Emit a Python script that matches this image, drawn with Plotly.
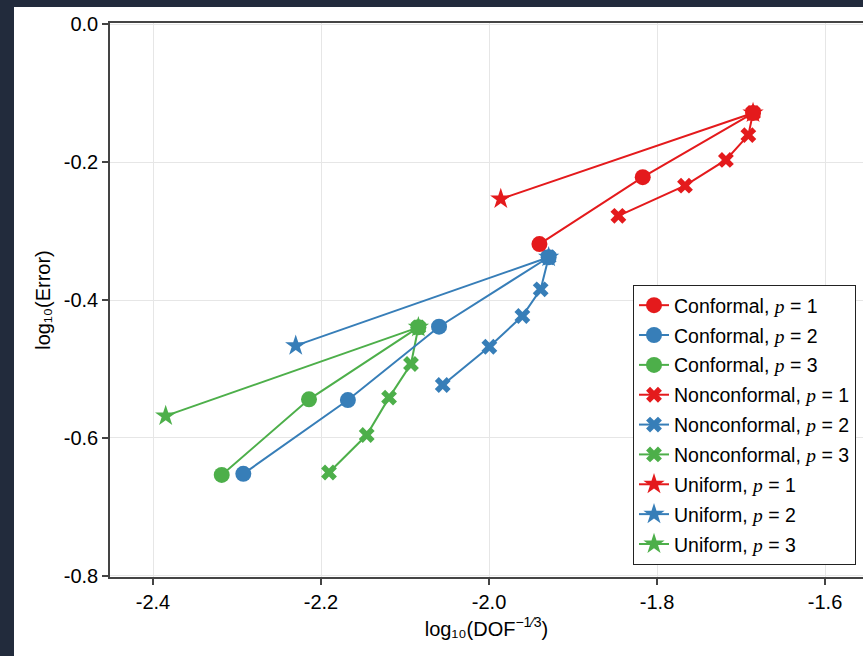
import plotly.graph_objects as go

# ---- data ----
conf_p1_x = [-1.6857, -1.817, -1.940]
conf_p1_y = [-0.129, -0.222, -0.319]
conf_p2_x = [-1.929, -2.0595, -2.168, -2.2925]
conf_p2_y = [-0.338, -0.4387, -0.545, -0.652]
conf_p3_x = [-2.0841, -2.2143, -2.3182]
conf_p3_y = [-0.4396, -0.544, -0.6536]

nonc_p1_x = [-1.6857, -1.6913, -1.718, -1.7667, -1.846]
nonc_p1_y = [-0.129, -0.161, -0.197, -0.2343, -0.278]
nonc_p2_x = [-1.929, -1.9385, -1.9603, -1.9996, -2.0551]
nonc_p2_y = [-0.338, -0.3845, -0.4232, -0.4677, -0.5232]
nonc_p3_x = [-2.0841, -2.0929, -2.119, -2.1456, -2.1905]
nonc_p3_y = [-0.4396, -0.4928, -0.5415, -0.5957, -0.650]

unif_p1_x = [-1.6857, -1.986]
unif_p1_y = [-0.129, -0.2536]
unif_p2_x = [-1.929, -2.2301]
unif_p2_y = [-0.338, -0.4662]
unif_p3_x = [-2.0841, -2.3849]
unif_p3_y = [-0.4396, -0.568]

x_tickvals = [-2.4, -2.2, -2.0, -1.8, -1.6]
x_ticktext = ["-2.4", "-2.2", "-2.0", "-1.8", "-1.6"]
y_tickvals = [0.0, -0.2, -0.4, -0.6, -0.8]
y_ticktext = ["0.0", "-0.2", "-0.4", "-0.6", "-0.8"]

colors = {1: "#e41a1c", 2: "#377eb8", 3: "#4daf4a"}
P = "<span style=\"font-family:Liberation Serif;font-style:italic\">p</span>"

series = [
    ("Conformal", 1, conf_p1_x, conf_p1_y, "circle", 16),
    ("Conformal", 2, conf_p2_x, conf_p2_y, "circle", 16),
    ("Conformal", 3, conf_p3_x, conf_p3_y, "circle", 16),
    ("Nonconformal", 1, nonc_p1_x, nonc_p1_y, "x", 14),
    ("Nonconformal", 2, nonc_p2_x, nonc_p2_y, "x", 14),
    ("Nonconformal", 3, nonc_p3_x, nonc_p3_y, "x", 14),
    ("Uniform", 1, unif_p1_x, unif_p1_y, "star", 16),
    ("Uniform", 2, unif_p2_x, unif_p2_y, "star", 16),
    ("Uniform", 3, unif_p3_x, unif_p3_y, "star", 16),
]

fig = go.Figure()
# draw in reverse so circles end up on top; keep legend order via legendrank
for rank, (name, p, xs, ys, sym, sz) in reversed(list(enumerate(series))):
    fig.add_trace(go.Scatter(
        x=xs, y=ys, mode="lines+markers",
        name=f"{name}, {P} = {p}",
        legendrank=rank + 1, legendgroup=f"g{rank}",
        line=dict(color=colors[p], width=2),
        marker=dict(symbol=sym, size=sz, color=colors[p], line=dict(width=0)),
    ))

FONT = "Liberation Sans, Arial, sans-serif"
W, H = 863, 656
ml, mt, mr, mb = 110, 23, 0, 79
pw, ph = W - ml - mr, H - mt - mb

fig.update_layout(
    width=W, height=H,
    margin=dict(l=ml, r=mr, t=mt, b=mb, pad=0),
    paper_bgcolor="#222b3c",
    plot_bgcolor="white",
    font=dict(family=FONT, size=20, color="black"),
    showlegend=True,
    legend=dict(
        x=(856 - ml) / pw, y=(577 - 565) / ph, xanchor="right", yanchor="bottom",
        bgcolor="white", bordercolor="#222222", borderwidth=1,
        font=dict(family=FONT, size=19.5, color="black"),
        traceorder="grouped", tracegroupgap=1.5,
    ),
    shapes=[dict(
        type="rect", xref="paper", yref="paper", layer="below",
        x0=(14 - ml) / pw, x1=1.01, y0=(577 - H - 2) / ph, y1=(577 - 7) / ph,
        fillcolor="white", line=dict(width=0),
    )],
    xaxis=dict(
        range=[-2.4512, -1.5548], tickvals=x_tickvals, ticktext=x_ticktext,
        showgrid=True, gridcolor="#e6e6e6", gridwidth=1, zeroline=False,
        showline=True, linecolor="#444444", linewidth=1.5, mirror=True,
        ticks="outside", ticklen=6, tickcolor="#444444", tickwidth=1.5,
        tickfont=dict(family=FONT, size=20, color="black"),
        title=dict(text="log₁₀(DOF<sup>−1⁄3</sup>)", standoff=10,
                   font=dict(family=FONT, size=20, color="black")),
    ),
    yaxis=dict(
        range=[-0.8015, 0.0015], tickvals=y_tickvals, ticktext=y_ticktext,
        showgrid=True, gridcolor="#e6e6e6", gridwidth=1, zeroline=False,
        showline=True, linecolor="#444444", linewidth=1.5,
        ticks="outside", ticklen=6, tickcolor="#444444", tickwidth=1.5,
        tickfont=dict(family=FONT, size=20, color="black"),
        title=dict(text="log₁₀(Error)", standoff=8,
                   font=dict(family=FONT, size=20, color="black")),
    ),
)

fig.write_html("out.html")
